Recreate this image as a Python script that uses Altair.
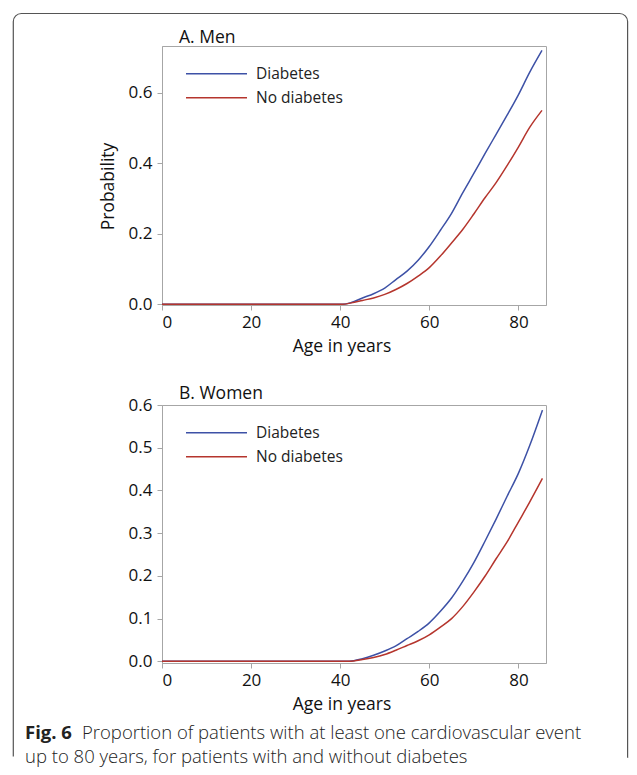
import altair as alt
import pandas as pd

# ---- data ----
groups = ["Diabetes", "No diabetes"]

ages_men = [0, 40.5, 42.5, 45, 47.5, 50, 52.5, 55, 57.5, 60, 62.5, 65, 67.5,
            70, 72.5, 75, 77.5, 80, 82.5, 85.3]
men_diab = [0, 0, 0.005, 0.018, 0.03, 0.046, 0.07, 0.094, 0.125, 0.164, 0.21,
            0.258, 0.316, 0.371, 0.427, 0.482, 0.537, 0.594, 0.657, 0.72]
men_nodiab = [0, 0, 0.004, 0.011, 0.018, 0.028, 0.042, 0.059, 0.08, 0.104, 0.137,
              0.174, 0.212, 0.256, 0.302, 0.345, 0.394, 0.446, 0.501, 0.55]

ages_women = [0, 42, 45, 47.5, 50, 52.5, 55, 57.5, 60, 62.5, 65, 67.5, 70,
              72.5, 75, 77.5, 80, 82.5, 85.4]
women_diab = [0, 0, 0.006, 0.014, 0.024, 0.036, 0.053, 0.07, 0.09, 0.117, 0.148,
              0.187, 0.231, 0.281, 0.333, 0.387, 0.44, 0.504, 0.588]
women_nodiab = [0, 0, 0.004, 0.009, 0.016, 0.026, 0.037, 0.048, 0.062, 0.08, 0.1,
                0.128, 0.162, 0.199, 0.24, 0.28, 0.326, 0.372, 0.428]

x_ticks = [0, 20, 40, 60, 80]
y_ticks_men = [0, 0.2, 0.4, 0.6]
y_ticks_women = [0, 0.1, 0.2, 0.3, 0.4, 0.5, 0.6]

title_men = "A. Men"
title_women = "B. Women"
x_title = "Age in years"
y_title = "Probability"
caption_bold = "Fig. 6"
caption_line1 = "Proportion of patients with at least one cardiovascular event"
caption_line2 = "up to 80 years, for patients with and without diabetes"

BLUE = "#3d51a6"
RED = "#b5352d"
FRAME = "#a6a6a6"
FONT = "Open Sans"


def long_df(ages, diab, nodiab):
    return pd.DataFrame({
        "age": ages + ages,
        "p": diab + nodiab,
        "group": [groups[0]] * len(ages) + [groups[1]] * len(ages),
    })


legend = alt.Legend(
    title=None, orient="none", legendX=23, legendY=15.7,
    symbolType="stroke", symbolSize=61 * 61, symbolStrokeWidth=1.5,
    clipHeight=24, rowPadding=0, labelFontSize=15.5, labelOffset=8,
    padding=0, labelFont=FONT, labelColor="#222222", labelLimit=300,
)
color = alt.Color("group:N", scale=alt.Scale(domain=groups, range=[BLUE, RED]),
                  legend=legend)

x_enc = alt.X(
    "age:Q",
    scale=alt.Scale(domain=[0, 86.2], nice=False, zero=False),
    axis=alt.Axis(values=x_ticks, title=x_title, titleX=179.5, format="d"),
)

one = pd.DataFrame({"k": [0]})
title_style = dict(align="left", baseline="alphabetic", font=FONT, fontSize=17.5,
                   color="#111111")


def panel(df, title, ydomain, yticks, ytitle, height, title_y):
    yaxis_kwargs = dict(values=yticks, format=".1f")
    if ytitle:
        yaxis_kwargs.update(title=ytitle, titleY=140)
    else:
        yaxis_kwargs.update(title=None)
    lines = alt.Chart(df).mark_line(strokeWidth=1.5, interpolate="monotone").encode(
        x=x_enc,
        y=alt.Y("p:Q", scale=alt.Scale(domain=ydomain, nice=False, zero=False),
                axis=alt.Axis(**yaxis_kwargs)),
        color=color,
        detail="group:N",
    )
    ttl = alt.Chart(one).mark_text(**title_style).encode(
        text=alt.value(title), x=alt.value(17), y=alt.value(title_y))
    return lines, ttl, height


lines_a, title_a, h_a = panel(long_df(ages_men, men_diab, men_nodiab), title_men,
                              [-0.002, 0.7325], y_ticks_men, y_title, 259, -3.5)
lines_b, title_b, h_b = panel(long_df(ages_women, women_diab, women_nodiab), title_women,
                              [-0.004, 0.6], y_ticks_women, None, 258, -5.7)

# outer figure frame (rounded top, open bottom); kept inside the 621px page body
w_box = 614.3
h_box = 744.0
on1 = (w_box - 16) + 12.57 + (h_box - 8)
border = alt.Chart(one).mark_rect(
    fillOpacity=0, stroke="#555555", strokeWidth=1.2,
    cornerRadiusTopLeft=8, cornerRadiusTopRight=8,
    strokeDash=[on1, w_box + 1, h_box - 8 + 12.57, 400],
).encode(x=alt.value(-148.7), x2=alt.value(-148.7 + w_box),
         y=alt.value(-32.5), y2=alt.value(-32.5 + h_box))

cap_style = dict(align="left", baseline="alphabetic", font=FONT, fontSize=18.5,
                 color="#222222")
cap0 = alt.Chart(one).mark_text(fontWeight="bold", **cap_style).encode(
    text=alt.value(caption_bold), x=alt.value(-137), y=alt.value(333.5))
cap1 = alt.Chart(one).mark_text(fontWeight=300, **cap_style).encode(
    text=alt.value(caption_line1), x=alt.value(-80), y=alt.value(333.5))
cap2 = alt.Chart(one).mark_text(fontWeight=300, **cap_style).encode(
    text=alt.value(caption_line2), x=alt.value(-137), y=alt.value(357.5))

panel_a = alt.layer(lines_a, title_a, border).properties(width=384, height=h_a)
panel_b = alt.layer(lines_b, title_b, cap0, cap1, cap2).properties(width=384, height=h_b)

chart = alt.vconcat(panel_a, panel_b, spacing=100, bounds="flush").resolve_legend(
    color="independent"
).properties(
    padding={"left": 4, "top": 4, "right": 0, "bottom": 0},
).configure(
    font=FONT,
).configure_view(
    stroke=FRAME, strokeWidth=1,
).configure_axis(
    grid=False, domainColor=FRAME, tickColor=FRAME, tickSize=5,
    labelFont=FONT, labelFontSize=17, labelColor="#111111",
    titleFont=FONT, titleFontSize=17.5, titleFontWeight="normal", titleColor="#111111",
).configure_axisX(
    labelPadding=4, titlePadding=7,
).configure_axisY(
    labelPadding=5, titlePadding=11,
)

chart.save("out.html", embed_options={"renderer": "svg", "actions": False})
